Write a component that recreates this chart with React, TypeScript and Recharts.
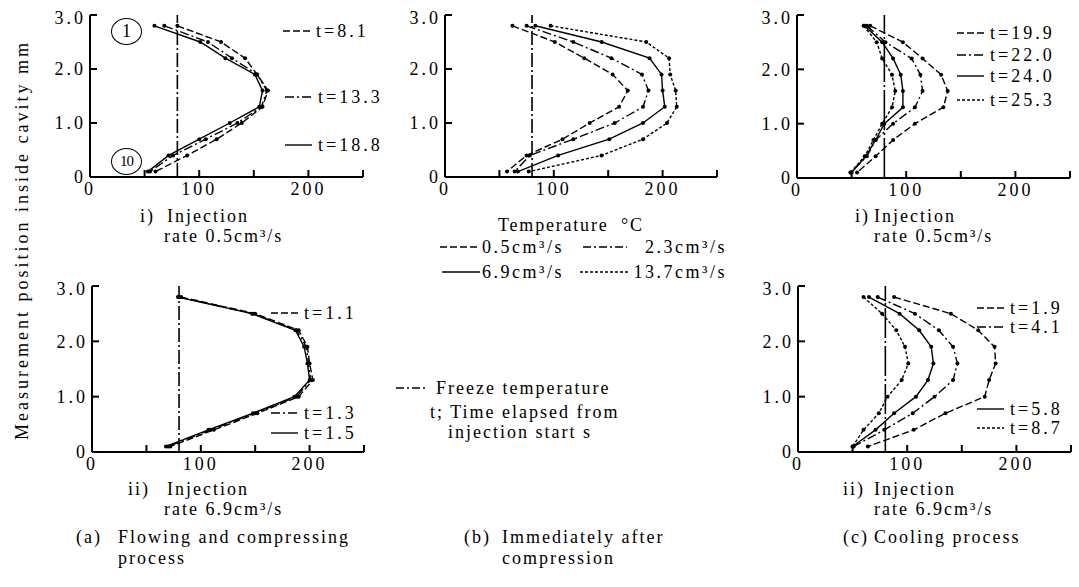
import React from 'react'
import { LineChart, Line, XAxis, YAxis, ReferenceLine } from 'recharts'

// measuring positions 1..10 (mm from bottom wall)
const POS = [2.8, 2.5, 2.2, 1.9, 1.6, 1.3, 1.0, 0.7, 0.4, 0.1]
const X_TICKS = [0, 50, 100, 150, 200, 250]
const Y_TICKS = [0, 1, 2, 3]
const FREEZE = 80

// (a) i) injection rate 0.5cm3/s
const A1_T81 = [80, 120, 142, 153, 163, 158, 139, 116, 89, 60]
const A1_T133 = [68, 108, 130, 153, 162, 157, 135, 106, 76, 55]
const A1_T188 = [59, 101, 124, 151, 158, 155, 128, 100, 72, 53]

// (a) ii) injection rate 6.9cm3/s
const A2_T11 = [82, 150, 190, 198, 200, 203, 190, 152, 112, 72]
const A2_T13 = [80, 148, 188, 197, 199, 201, 188, 150, 109, 70]
const A2_T15 = [79, 147, 187, 195, 198, 200, 186, 148, 107, 68]

// (b) immediately after compression
const B_05 = [62, 101, 128, 154, 168, 160, 133, 108, 75, 57]
const B_23 = [75, 118, 153, 181, 187, 182, 156, 118, 78, 64]
const B_69 = [83, 144, 188, 199, 200, 202, 182, 151, 104, 67]
const B_137 = [97, 185, 206, 207, 212, 213, 204, 182, 144, 77]

// (c) i) cooling, 0.5cm3/s
const C1_T199 = [67, 97, 115, 132, 138, 134, 108, 88, 72, 55]
const C1_T220 = [64, 81, 105, 113, 115, 108, 88, 72, 64, 49]
const C1_T240 = [62, 78, 88, 95, 97, 97, 80, 72, 63, 50]
const C1_T253 = [61, 73, 78, 87, 90, 87, 78, 70, 62, 49]

// (c) ii) cooling, 6.9cm3/s
const C2_T19 = [88, 140, 165, 180, 181, 175, 171, 135, 106, 64]
const C2_T41 = [73, 107, 129, 142, 146, 142, 125, 105, 79, 51]
const C2_T58 = [65, 93, 111, 122, 124, 119, 108, 88, 71, 50]
const C2_T87 = [60, 77, 90, 98, 101, 95, 82, 74, 60, 50]

const SERIF = '"Liberation Serif", "DejaVu Serif", serif'

const DASHED = '7 3'
const DASHDOT = '9 3 2 3'
const DOTTED = '3 2'
const SOLID = ''

type Series = { key: string; temps: number[]; dash: string }

const toPoints = (temps: number[]) => POS.map((p, i) => ({ x: temps[i], y: p }))

const fmtX = (v: number) => (v === 0 || v === 100 || v === 200 ? String(v) : '')
const fmtY = (v: number) => (v === 0 ? '0' : v.toFixed(1))

function Panel({ left, top, width, height, series, freezeDash }: {
  left: number; top: number; width: number; height: number; series: Series[]; freezeDash: string
}) {
  const ML = 56
  const MT = 8
  const MR = 8
  const MB = 30
  const tickStyle = { fontFamily: SERIF, fontSize: 18, fill: '#000', letterSpacing: 3 }
  return (
    <div style={{ position: 'absolute', left: left - ML, top: top - MT }}>
      <LineChart
        width={width + ML + MR}
        height={height + MT + MB}
        margin={{ top: MT, right: MR, left: 0, bottom: 0 }}
      >
        <XAxis
          type="number"
          dataKey="x"
          domain={[0, 250]}
          ticks={X_TICKS}
          allowDataOverflow
          height={MB}
          tickFormatter={fmtX}
          tickSize={-7}
          tickMargin={12}
          tick={tickStyle}
          axisLine={{ stroke: '#000', strokeWidth: 2 }}
          tickLine={{ stroke: '#000', strokeWidth: 2 }}
        />
        <YAxis
          type="number"
          domain={[0, 3]}
          ticks={Y_TICKS}
          allowDataOverflow
          width={ML}
          tickFormatter={fmtY}
          tickSize={-7}
          tickMargin={11}
          tick={tickStyle}
          axisLine={{ stroke: '#000', strokeWidth: 2 }}
          tickLine={{ stroke: '#000', strokeWidth: 2 }}
        />
        <ReferenceLine x={FREEZE} stroke="#000" strokeWidth={1.6} strokeDasharray={freezeDash} />
        {series.map((s) => (
          <Line
            key={s.key}
            data={toPoints(s.temps)}
            dataKey="y"
            type="linear"
            stroke="#000"
            strokeWidth={1.4}
            strokeDasharray={s.dash || undefined}
            dot={{ r: 2, fill: '#000', stroke: '#000', strokeWidth: 0 }}
            isAnimationActive={false}
          />
        ))}
      </LineChart>
    </div>
  )
}

function T({ x, y, size = 18, ls = 2, right, children }: {
  x: number; y: number; size?: number; ls?: number; right?: boolean; children: React.ReactNode
}) {
  return (
    <div
      style={{
        position: 'absolute',
        left: right ? undefined : x,
        right: right ? 1079 - x : undefined,
        top: y - size / 2,
        fontSize: size,
        lineHeight: `${size}px`,
        letterSpacing: ls,
        whiteSpace: 'nowrap',
        fontFamily: SERIF,
        color: '#000',
      }}
    >
      {children}
    </div>
  )
}

function Sample({ x, y, w, dash }: { x: number; y: number; w: number; dash: string }) {
  return (
    <svg style={{ position: 'absolute', left: x, top: y - 3 }} width={w} height={6}>
      <line x1={0} y1={3} x2={w} y2={3} stroke="#000" strokeWidth={1.4} strokeDasharray={dash || undefined} />
    </svg>
  )
}

function TLabel({ x, y, dash, text }: { x: number; y: number; dash: string; text: string }) {
  return (
    <>
      <Sample x={x} y={y} w={27} dash={dash} />
      <T x={x + 33} y={y} size={18} ls={3}>{text}</T>
    </>
  )
}

function Circled({ x, y, text }: { x: number; y: number; text: string }) {
  return (
    <div
      style={{
        position: 'absolute',
        left: x - 16,
        top: y - 14,
        width: 29,
        height: 25,
        border: '1.6px solid #000',
        borderRadius: '50%',
        display: 'flex',
        alignItems: 'center',
        justifyContent: 'center',
        fontFamily: SERIF,
        fontSize: text.length > 1 ? 15 : 18,
        letterSpacing: text.length > 1 ? -1 : 0,
      }}
    >
      {text}
    </div>
  )
}

export default function App() {
  const a1: Series[] = [
    { key: 't81', temps: A1_T81, dash: DASHED },
    { key: 't133', temps: A1_T133, dash: DASHDOT },
    { key: 't188', temps: A1_T188, dash: SOLID },
  ]
  const a2: Series[] = [
    { key: 't11', temps: A2_T11, dash: DASHED },
    { key: 't13', temps: A2_T13, dash: DASHDOT },
    { key: 't15', temps: A2_T15, dash: SOLID },
  ]
  const b: Series[] = [
    { key: 'r05', temps: B_05, dash: DASHED },
    { key: 'r23', temps: B_23, dash: DASHDOT },
    { key: 'r69', temps: B_69, dash: SOLID },
    { key: 'r137', temps: B_137, dash: DOTTED },
  ]
  const c1: Series[] = [
    { key: 't199', temps: C1_T199, dash: DASHED },
    { key: 't220', temps: C1_T220, dash: DASHDOT },
    { key: 't240', temps: C1_T240, dash: SOLID },
    { key: 't253', temps: C1_T253, dash: DOTTED },
  ]
  const c2: Series[] = [
    { key: 't19', temps: C2_T19, dash: DASHED },
    { key: 't41', temps: C2_T41, dash: DASHDOT },
    { key: 't58', temps: C2_T58, dash: SOLID },
    { key: 't87', temps: C2_T87, dash: DOTTED },
  ]

  return (
    <div style={{ position: 'absolute', left: 0, top: 0, width: 1079, height: 587, background: '#fff', overflow: 'hidden' }}>
      <Panel left={90} top={15} width={273} height={162} series={a1} freezeDash="14 3 2 3" />
      <Panel left={92} top={286} width={272} height={166} series={a2} freezeDash="14 3 2 3" />
      <Panel left={445} top={15} width={272} height={162} series={b} freezeDash="14 3 2 3" />
      <Panel left={797} top={15} width={273} height={163} series={c1} freezeDash="40 3 2 3" />
      <Panel left={798} top={286} width={273} height={166} series={c2} freezeDash="30 3 2 3" />

      {/* y axis title */}
      <div
        style={{
          position: 'absolute',
          left: 22,
          top: 240,
          transform: 'translate(-50%, -50%) rotate(-90deg)',
          fontFamily: SERIF,
          fontSize: 18,
          letterSpacing: 3,
          whiteSpace: 'nowrap',
        }}
      >
        Measurement position inside cavity mm
      </div>

      {/* panel a-i */}
      <Circled x={127} y={32} text="1" />
      <Circled x={127} y={162} text="10" />
      <TLabel x={283} y={31} dash={DASHED} text="t=8.1" />
      <TLabel x={285} y={97} dash={DASHDOT} text="t=13.3" />
      <TLabel x={285} y={145} dash={SOLID} text="t=18.8" />

      {/* panel a-ii */}
      <TLabel x={271} y={313} dash={DASHED} text="t=1.1" />
      <TLabel x={271} y={413} dash={DASHDOT} text="t=1.3" />
      <TLabel x={271} y={433} dash={SOLID} text="t=1.5" />

      {/* panel c-i */}
      <TLabel x={957} y={33} dash={DASHED} text="t=19.9" />
      <TLabel x={957} y={55} dash={DASHDOT} text="t=22.0" />
      <TLabel x={957} y={76} dash={SOLID} text="t=24.0" />
      <TLabel x={957} y={100} dash={DOTTED} text="t=25.3" />

      {/* panel c-ii */}
      <TLabel x={977} y={308} dash={DASHED} text="t=1.9" />
      <TLabel x={977} y={327} dash={DASHDOT} text="t=4.1" />
      <TLabel x={977} y={409} dash={SOLID} text="t=5.8" />
      <TLabel x={977} y={428} dash={DOTTED} text="t=8.7" />

      {/* panel captions */}
      <T x={140} y={216}>i)</T>
      <T x={167} y={216}>Injection</T>
      <T x={164} y={236}>rate 0.5cm³/s</T>
      <T x={855} y={216}>i)</T>
      <T x={874} y={216}>Injection</T>
      <T x={874} y={236}>rate 0.5cm³/s</T>
      <T x={128} y={489}>ii)</T>
      <T x={167} y={489}>Injection</T>
      <T x={164} y={509}>rate 6.9cm³/s</T>
      <T x={843} y={489}>ii)</T>
      <T x={874} y={489}>Injection</T>
      <T x={874} y={509}>rate 6.9cm³/s</T>

      {/* middle legend */}
      <T x={498} y={225} ls={1.8}>Temperature&nbsp;&nbsp;°C</T>
      <Sample x={440} y={247} w={38} dash="7 3" />
      <T x={482} y={247} ls={2.5}>0.5cm³/s</T>
      <Sample x={583} y={247} w={44} dash="8 3 2 3" />
      <T x={727} y={247} ls={2.5} right>2.3cm³/s</T>
      <Sample x={442} y={272} w={38} dash={SOLID} />
      <T x={482} y={272} ls={2.5}>6.9cm³/s</T>
      <Sample x={580} y={272} w={50} dash="3 2" />
      <T x={727} y={272} ls={2.5} right>13.7cm³/s</T>

      <Sample x={396} y={388} w={32} dash="8 3 2 3" />
      <T x={436} y={388}>Freeze temperature</T>
      <T x={430} y={412}>t; Time elapsed from</T>
      <T x={448} y={432}>injection start s</T>

      {/* group captions */}
      <T x={76} y={537}>(a)</T>
      <T x={118} y={537}>Flowing and compressing</T>
      <T x={118} y={558}>process</T>
      <T x={464} y={537}>(b)</T>
      <T x={502} y={537}>Immediately after</T>
      <T x={502} y={558}>compression</T>
      <T x={843} y={537}>(c)</T>
      <T x={874} y={537}>Cooling process</T>
    </div>
  )
}
